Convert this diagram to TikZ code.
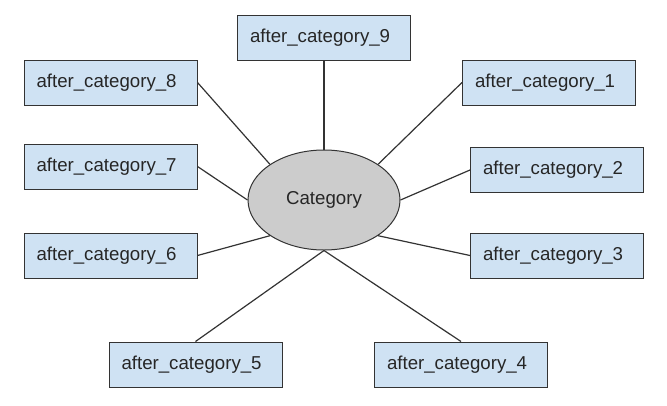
\documentclass[tikz,border=0pt]{standalone}
\usepackage{fontspec}
\setmainfont{Liberation Sans}
\usetikzlibrary{shapes.geometric}
\definecolor{boxfill}{HTML}{CFE2F3}
\definecolor{ellfill}{HTML}{CCCCCC}
\definecolor{edgecol}{HTML}{333333}
\definecolor{linecol}{HTML}{333333}
\begin{document}
\begin{tikzpicture}[x=1pt,y=-1pt,
  catbox/.style={draw=edgecol, fill=boxfill, line width=1pt, rectangle,
    text width=148pt, inner xsep=12.5pt, inner ysep=0pt, minimum height=45pt,
    align=left, font=\fontsize{18.67}{22}\selectfont, text=black!85},
  centre/.style={draw=edgecol, fill=ellfill, line width=1pt, ellipse,
    minimum width=152pt, minimum height=100pt, inner sep=0pt,
    font=\fontsize{18.67}{22}\selectfont, text=black!85},
  link/.style={draw=linecol, line width=1.2pt}]
\useasboundingbox (0,0) rectangle (667,405);
\node[centre] (cat) at (324,200) {Category};
\node[catbox] (c9) at (324,37.5) {after\_category\_9};
\node[catbox] (c8) at (110.5,82.5) {after\_category\_8};
\node[catbox] (c1) at (549,82.5) {after\_category\_1};
\node[catbox] (c7) at (110.5,166.5) {after\_category\_7};
\node[catbox] (c2) at (557,170) {after\_category\_2};
\node[catbox] (c6) at (110.5,255.5) {after\_category\_6};
\node[catbox] (c3) at (557,255.5) {after\_category\_3};
\node[catbox] (c5) at (195.5,364.5) {after\_category\_5};
\node[catbox] (c4) at (461,364.5) {after\_category\_4};
\draw[link] (c9.south) -- (cat.north);
\draw[link] (c8.east) -- (cat.north west);
\draw[link] (c1.west) -- (cat.north east);
\draw[link] (c7.east) -- (cat.west);
\draw[link] (c2.west) -- (cat.east);
\draw[link] (c6.east) -- (cat.south west);
\draw[link] (c3.west) -- (cat.south east);
\draw[link] (c5.north) -- (cat.south);
\draw[link] (c4.north) -- (cat.south);
\end{tikzpicture}
\end{document}
